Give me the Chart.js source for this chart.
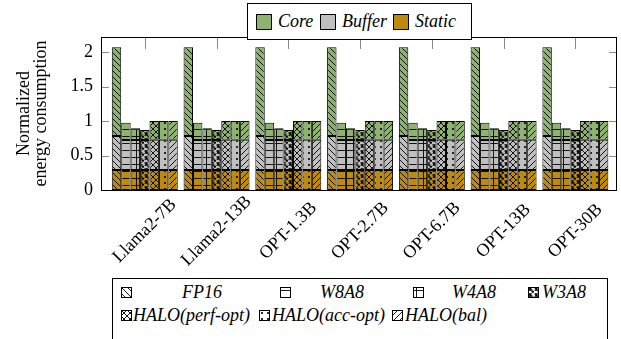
<!DOCTYPE html>
<html><head><meta charset="utf-8">
<script src="https://cdn.jsdelivr.net/npm/chart.js@4/dist/chart.umd.min.js"></script>
<style>
body{margin:0;background:#fff;}
#wrap{position:relative;width:621px;height:339px;overflow:hidden;font-family:"Liberation Serif","Times New Roman",serif;}
#c{position:absolute;left:0;top:0;}
.box{position:absolute;border:1px solid #000;background:#fff;box-sizing:border-box;}
.it{position:absolute;height:20px;display:flex;align-items:center;font-style:italic;font-size:18px;white-space:nowrap;line-height:20px;}
.sw{display:block;box-sizing:border-box;}
</style></head><body>
<div id="wrap"><canvas id="c" width="621" height="339"></canvas>
<div class="box" id="topLegend" style="left:247px;top:3px;width:225px;height:37px"></div>
<div class="box" id="cfgLegend" style="left:112px;top:278px;width:496px;height:80px"></div>
</div>
<script>
// Models on the x axis
const models = ['Llama2-7B', 'Llama2-13B', 'OPT-1.3B', 'OPT-2.7B', 'OPT-6.7B', 'OPT-13B', 'OPT-30B'];
// Quantization / mapping configurations (one bar per configuration in each group)
const configs = ['FP16', 'W8A8', 'W4A8', 'W3A8', 'HALO(perf-opt)', 'HALO(acc-opt)', 'HALO(bal)'];
// Energy components, listed as in the legend; stacked bottom to top as Static, Buffer, Core
const components = ['Core', 'Buffer', 'Static'];

// Normalized energy per component; rows follow configs, columns follow models
const staticEnergy = [
  [0.29, 0.29, 0.29, 0.29, 0.29, 0.29, 0.29],
  [0.29, 0.29, 0.29, 0.29, 0.29, 0.29, 0.29],
  [0.29, 0.29, 0.29, 0.29, 0.29, 0.29, 0.29],
  [0.29, 0.29, 0.29, 0.29, 0.29, 0.29, 0.29],
  [0.29, 0.29, 0.29, 0.29, 0.29, 0.29, 0.29],
  [0.29, 0.29, 0.29, 0.29, 0.29, 0.29, 0.29],
  [0.29, 0.29, 0.29, 0.29, 0.29, 0.29, 0.29]
];
const bufferEnergy = [
  [0.495, 0.495, 0.495, 0.495, 0.495, 0.495, 0.495],
  [0.435, 0.435, 0.435, 0.435, 0.435, 0.435, 0.435],
  [0.435, 0.435, 0.435, 0.435, 0.435, 0.435, 0.435],
  [0.435, 0.435, 0.435, 0.435, 0.435, 0.435, 0.435],
  [0.44, 0.44, 0.44, 0.44, 0.44, 0.44, 0.44],
  [0.44, 0.44, 0.44, 0.44, 0.44, 0.44, 0.44],
  [0.44, 0.44, 0.44, 0.44, 0.44, 0.44, 0.44]
];
const coreEnergy = [
  [1.285, 1.285, 1.285, 1.285, 1.285, 1.285, 1.285],
  [0.25, 0.25, 0.25, 0.25, 0.25, 0.25, 0.25],
  [0.17, 0.17, 0.17, 0.17, 0.17, 0.17, 0.17],
  [0.145, 0.145, 0.145, 0.145, 0.145, 0.145, 0.145],
  [0.27, 0.27, 0.27, 0.27, 0.27, 0.27, 0.27],
  [0.27, 0.27, 0.27, 0.27, 0.27, 0.27, 0.27],
  [0.27, 0.27, 0.27, 0.27, 0.27, 0.27, 0.27]
];
const yTickValues = [0, 0.5, 1, 1.5, 2];

// ---- styling ----
const FONT = '"Liberation Serif", "Times New Roman", serif';
const componentColors = { Core: '#8cb46e', Buffer: '#c0c0c0', Static: '#bf8a0a' };
const configMotifs = ['nw', 'h', 'grid', 'w3', 'cross', 'dots', 'ne'];
const motifTile = { nw: 6, ne: 6, h: 7, grid: 7, w3: 6, cross: 6, dots: 6 };

function drawMotif(ctx, kind, s) {
  ctx.strokeStyle = '#000';
  ctx.fillStyle = '#000';
  ctx.lineWidth = 0.9;
  const line = (x1, y1, x2, y2) => { ctx.beginPath(); ctx.moveTo(x1, y1); ctx.lineTo(x2, y2); ctx.stroke(); };
  if (kind === 'nw' || kind === 'cross') for (const k of [-1, 0, 1]) line(k * s, 0, k * s + s, s);
  if (kind === 'ne' || kind === 'cross') for (const k of [-1, 0, 1]) line(k * s, s, k * s + s, 0);
  if (kind === 'h' || kind === 'grid') line(0, s / 2, s, s / 2);
  if (kind === 'grid') line(s / 2, 0, s / 2, s);
  if (kind === 'dots') { ctx.beginPath(); ctx.arc(s / 2, s / 2, 1.1, 0, Math.PI * 2); ctx.fill(); }
  if (kind === 'w3') {
    // small zig-zag strokes
    ctx.lineWidth = 1.3;
    ctx.beginPath();
    ctx.moveTo(0.5, 1); ctx.lineTo(3, 1); ctx.lineTo(1.5, 3); ctx.lineTo(4.5, 3);
    ctx.stroke();
    ctx.beginPath();
    ctx.moveTo(3.5, 4.5); ctx.lineTo(5.5, 4.5); ctx.lineTo(4.5, 5.8);
    ctx.stroke();
  }
}

function makeTile(kind, fill) {
  const s = motifTile[kind];
  const t = document.createElement('canvas');
  t.width = s; t.height = s;
  const ctx = t.getContext('2d');
  ctx.fillStyle = fill;
  ctx.fillRect(0, 0, s, s);
  drawMotif(ctx, kind, s);
  return t;
}

const cctx = document.getElementById('c').getContext('2d');
function patternFor(kind, fill) {
  return cctx.createPattern(makeTile(kind, fill), 'repeat');
}

// ---- datasets: one stack per configuration, Static / Buffer / Core segments ----
const partTable = { Static: staticEnergy, Buffer: bufferEnergy, Core: coreEnergy };
const datasets = [];
configs.forEach((cfg, ci) => {
  ['Static', 'Buffer', 'Core'].forEach(comp => {
    datasets.push({
      label: cfg + ' ' + comp,
      stack: cfg,
      data: models.map((m, mi) => ({ x: mi, y: partTable[comp][ci][mi] })),
      backgroundColor: patternFor(configMotifs[ci], componentColors[comp]),
      borderColor: '#000',
      borderWidth: 1,
      borderSkipped: false
    });
  });
});

// Axis box, inward tick marks and rotated model names
const axisDecor = {
  id: 'axisDecor',
  beforeDatasetsDraw(chart) {
    const { ctx, chartArea: a, scales } = chart;
    ctx.save();
    ctx.strokeStyle = '#8a8a8a';
    ctx.lineWidth = 1;
    yTickValues.forEach(v => {
      const y = Math.round(scales.y.getPixelForValue(v)) + 0.5;
      ctx.beginPath();
      ctx.moveTo(a.left, y); ctx.lineTo(a.left + 8, y);
      ctx.moveTo(a.right, y); ctx.lineTo(a.right - 8, y);
      ctx.stroke();
    });
    models.forEach((m, i) => {
      const x = Math.round(scales.x.getPixelForValue(i)) + 0.5;
      ctx.beginPath();
      ctx.moveTo(x, a.top); ctx.lineTo(x, a.top + 12);
      ctx.moveTo(x, a.bottom); ctx.lineTo(x, a.bottom - 12);
      ctx.stroke();
    });
    ctx.restore();
  },
  afterDraw(chart) {
    const { ctx, chartArea: a, scales } = chart;
    ctx.save();
    ctx.strokeStyle = '#000';
    ctx.lineWidth = 1;
    ctx.strokeRect(a.left + 0.5, a.top + 0.5, a.right - a.left - 1, a.bottom - a.top);
    ctx.fillStyle = '#000';
    ctx.font = '18px ' + FONT;
    ctx.textAlign = 'center';
    ctx.textBaseline = 'middle';
    models.forEach((m, i) => {
      const x = scales.x.getPixelForValue(i);
      ctx.save();
      ctx.translate(x, a.bottom + 41);
      ctx.rotate(-Math.PI / 4);
      ctx.fillText(m, 0, 0);
      ctx.restore();
    });
    ctx.restore();
  }
};

new Chart(document.getElementById('c'), {
  type: 'bar',
  data: { datasets },
  options: {
    responsive: false,
    animation: false,
    devicePixelRatio: 1,
    layout: { padding: { top: 37, right: 4, left: 0, bottom: 0 } },
    datasets: { bar: { categoryPercentage: 0.919, barPercentage: 1.0 } },
    plugins: { legend: { display: false }, tooltip: { enabled: false } },
    scales: {
      x: {
        type: 'linear',
        min: -0.61,
        max: 6.58,
        offset: false,
        grid: { display: false, drawTicks: false },
        border: { display: false },
        ticks: { display: false, stepSize: 1, includeBounds: false },
        afterFit: s => { s.height = 149; }
      },
      y: {
        stacked: true,
        min: 0,
        max: 2.22,
        grid: { display: false, drawTicks: false },
        border: { display: false },
        afterBuildTicks: s => { s.ticks = yTickValues.map(v => ({ value: v })); },
        ticks: {
          padding: 8,
          color: '#000',
          font: { family: FONT, size: 18 },
          callback: v => String(v)
        },
        title: {
          display: true,
          text: ['Normalized', 'energy consumption'],
          color: '#000',
          font: { family: FONT, size: 18, lineHeight: '17px' },
          padding: { top: 16, bottom: 0 }
        },
        afterFit: s => { s.width = 101; }
      }
    }
  },
  plugins: [axisDecor]
});

// ---- legends ----
const wrap = document.getElementById('wrap');
function place(el, left, top) {
  const d = document.createElement('div');
  d.className = 'it';
  d.style.left = left + 'px';
  d.style.top = top + 'px';
  if (typeof el === 'string') d.textContent = el; else d.appendChild(el);
  wrap.appendChild(d);
}

// component legend (solid colours)
const compX = [[256, 278], [320, 342], [393, 415]];
components.forEach((comp, i) => {
  const sw = document.createElement('span');
  sw.className = 'sw';
  sw.style.cssText = `width:16px;height:16px;border:1px solid #000;background:${componentColors[comp]};`;
  place(sw, compX[i][0], 12);
  place(comp, compX[i][1], 11);
});

// configuration legend (black patterns on white)
const cfgPos = [
  [121, 182, 282], [280, 320, 282], [413, 452, 282], [528, 542, 282],
  [121, 133, 305], [259, 272, 305], [392, 405, 305]
];
configs.forEach((cfg, i) => {
  const [sx, tx, ty] = cfgPos[i];
  const c = document.createElement('canvas');
  c.width = 11; c.height = 11;
  c.className = 'sw';
  const g = c.getContext('2d');
  g.fillStyle = patternFor(configMotifs[i], '#fff');
  g.fillRect(0, 0, 11, 11);
  g.strokeStyle = '#000';
  g.lineWidth = 1;
  g.strokeRect(0.5, 0.5, 10, 10);
  place(c, sx, ty);
  place(cfg, tx, ty);
});
</script>
</body></html>
